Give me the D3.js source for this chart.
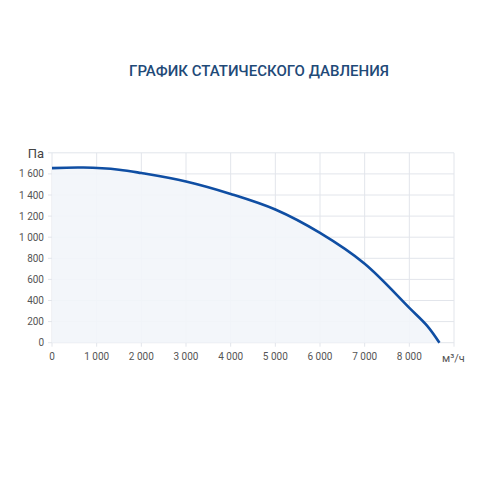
<!DOCTYPE html>
<html><head><meta charset="utf-8">
<script src="https://cdn.jsdelivr.net/npm/d3@7"></script>
<style>body{margin:0;background:#fff}</style>
</head><body>
<svg id="svg" width="500" height="500"></svg>
<script>
// ====== Data ======
const flow = [0, 700, 1500, 2000, 3000, 4000, 5000, 6000, 7000, 8000, 8400, 8674];
const pressure = [1655, 1660, 1640, 1608, 1528, 1410, 1262, 1040, 748, 330, 160, 0];
const xTicks = [0, 1000, 2000, 3000, 4000, 5000, 6000, 7000, 8000];
const yTicks = [0, 200, 400, 600, 800, 1000, 1200, 1400, 1600];

const fmt = (v) => d3.format(",")(v).replace(/,/g, " ");
const svg = d3.select("#svg");
const x = d3.scaleLinear().domain([0, 9000]).range([52, 454]);
const y = d3.scaleLinear().domain([0, 1800]).range([342.7, 152.8]);
const pts = flow.map((f, i) => [f, pressure[i]]);

svg.append("text").attr("x", 259).attr("y", 76).attr("text-anchor", "middle")
  .attr("font-family", "Roboto").attr("font-size", 15).attr("font-weight", 500)
  .attr("fill", "#1f4a78").text("ГРАФИК СТАТИЧЕСКОГО ДАВЛЕНИЯ");

// grid
const grid = svg.append("g").attr("stroke", "#e2e5eb").attr("stroke-width", 1);
d3.range(0, 9001, 1000).forEach((v) =>
  grid.append("line").attr("x1", x(v)).attr("x2", x(v)).attr("y1", y(1800)).attr("y2", y(0) + 4));
d3.range(0, 1801, 200).forEach((v) =>
  grid.append("line").attr("x1", x(0) - 4).attr("x2", x(9000)).attr("y1", y(v)).attr("y2", y(v)));

// area + line
const curve = d3.curveCatmullRom.alpha(0.5);
svg.append("path").datum(pts).attr("fill", "#f2f5fa").attr("fill-opacity", 0.9)
  .attr("d", d3.area().x((d) => x(d[0])).y0(y(0)).y1((d) => y(d[1])).curve(curve));
svg.append("path").datum(pts).attr("fill", "none").attr("stroke", "#0f4ea3").attr("stroke-width", 2.6)
  .attr("d", d3.line().x((d) => x(d[0])).y((d) => y(d[1])).curve(curve));

// labels
const lab = svg.append("g").attr("font-family", "Roboto").attr("font-size", 10).attr("fill", "#555");
xTicks.forEach((v) => lab.append("text").attr("x", x(v)).attr("y", y(0) + 17)
  .attr("text-anchor", "middle").text(fmt(v)));
yTicks.forEach((v) => lab.append("text").attr("x", x(0) - 8).attr("y", y(v) + 3.5)
  .attr("text-anchor", "end").text(fmt(v)));
svg.append("text").attr("x", 44).attr("y", 158).attr("text-anchor", "end")
  .attr("font-family", "Roboto").attr("font-size", 13).attr("fill", "#444").text("Па");
svg.append("text").attr("x", 442).attr("y", 362).attr("font-family", "Roboto")
  .attr("font-size", 11).attr("fill", "#555").text("м³/ч");
</script>
</body></html>
